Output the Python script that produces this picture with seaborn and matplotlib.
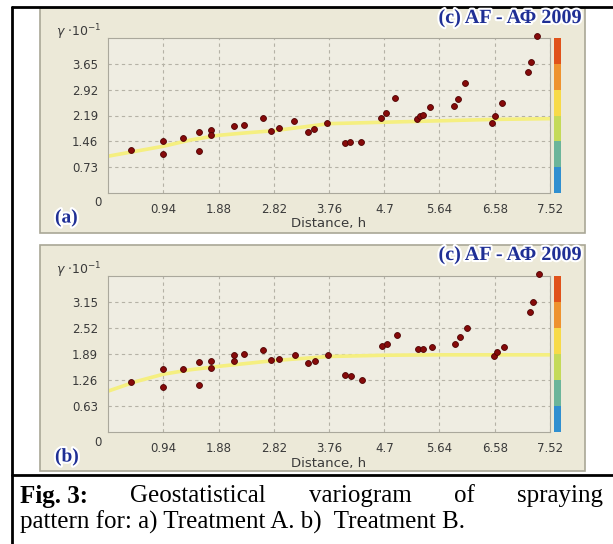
import matplotlib
matplotlib.use("Agg")
import matplotlib.pyplot as plt
import matplotlib.patheffects as pe
from matplotlib.colors import ListedColormap, BoundaryNorm
from matplotlib.patches import Rectangle
from matplotlib.lines import Line2D
import matplotlib.colorbar as mcolorbar
import seaborn as sns

# --- data ---
dist_a = [0.39, 0.93, 0.93, 1.27, 1.55, 1.55, 1.76, 1.76, 2.15, 2.32, 2.64, 2.77,
          2.91, 3.17, 3.40, 3.51, 3.73, 4.03, 4.12, 4.30, 4.64, 4.73, 4.88, 5.25,
          5.31, 5.36, 5.48, 5.89, 5.96, 6.07, 6.53, 6.58, 6.70, 7.15, 7.19, 7.30]
gamma_a = [1.22, 1.48, 1.10, 1.55, 1.72, 1.19, 1.79, 1.63, 1.88, 1.92, 2.11, 1.76,
           1.84, 2.04, 1.73, 1.81, 1.97, 1.40, 1.43, 1.45, 2.11, 2.25, 2.69, 2.10,
           2.17, 2.20, 2.42, 2.45, 2.66, 3.11, 1.98, 2.17, 2.55, 3.43, 3.71, 4.44]
model_x_a = [0, 0.47, 0.94, 1.41, 1.88, 2.35, 2.82, 3.29, 3.76, 4.7, 5.64, 6.58, 7.52]
model_y_a = [1.04, 1.18, 1.32, 1.50, 1.63, 1.70, 1.76, 1.86, 1.96, 2.00, 2.04, 2.08, 2.10]

dist_b = [0.39, 0.93, 0.93, 1.27, 1.55, 1.55, 1.76, 1.76, 2.15, 2.15, 2.32, 2.64,
          2.77, 2.91, 3.18, 3.40, 3.52, 3.75, 4.04, 4.13, 4.32, 4.67, 4.75, 4.91,
          5.28, 5.36, 5.51, 5.91, 5.99, 6.11, 6.57, 6.61, 6.74, 7.18, 7.23, 7.33]
gamma_b = [1.22, 1.52, 1.10, 1.53, 1.70, 1.14, 1.71, 1.56, 1.87, 1.71, 1.89, 1.99,
           1.75, 1.77, 1.86, 1.68, 1.73, 1.86, 1.37, 1.36, 1.26, 2.09, 2.14, 2.36,
           2.02, 2.02, 2.05, 2.14, 2.29, 2.51, 1.85, 1.94, 2.07, 2.91, 3.14, 3.82]
model_x_b = [0, 0.47, 0.94, 1.41, 1.88, 2.82, 3.76, 4.7, 5.64, 6.58, 7.52]
model_y_b = [0.99, 1.22, 1.40, 1.51, 1.59, 1.73, 1.83, 1.86, 1.87, 1.87, 1.87]

x_ticks = [0.94, 1.88, 2.82, 3.76, 4.7, 5.64, 6.58, 7.52]
x_labels = ["0.94", "1.88", "2.82", "3.76", "4.7", "5.64", "6.58", "7.52"]
y_ticks_a = [0.73, 1.46, 2.19, 2.92, 3.65]
y_ticks_b = [0.63, 1.26, 1.89, 2.52, 3.15]
bar_colors = ["#2f8fd0", "#6bb59a", "#c4da58", "#f7da48", "#ee922e", "#e0521a"]

W, H = 613, 544
sns.set_style("white")
fig = plt.figure(figsize=(W / 100, H / 100), dpi=100)

PANEL = "#ece9d8"
PLOTBG = "#efede2"
GRID = "#b5b2a6"
TXT = "#3a3a3a"
BLUE = "#1f2f95"
glow = [pe.withStroke(linewidth=3, foreground="white")]


def fx(px):
    return px / W


def fy(py):
    return 1 - py / H


def draw_panel(top, bottom, ax_top, ax_bot, x, y, mx, my, yticks, ymax, tag):
    fig.add_artist(Rectangle((fx(40), fy(bottom)), fx(545), (bottom - top) / H,
                             transform=fig.transFigure, facecolor=PANEL,
                             edgecolor="#a9a796", lw=1.2, zorder=-5))
    ax = fig.add_axes([fx(108), fy(ax_bot), fx(442), (ax_bot - ax_top) / H])
    ax.set_facecolor(PLOTBG)
    ax.set_xlim(0, 7.52)
    ax.set_ylim(0, ymax)

    sns.lineplot(x=mx, y=my, ax=ax, color="#f5ef80", lw=2.6, zorder=2)
    sns.scatterplot(x=x, y=y, ax=ax, color="#860a0a", edgecolor="#4d0303",
                    linewidth=0.6, s=18, zorder=3, clip_on=False)
    ax.set_xlabel("")
    ax.set_ylabel("")
    ax.set_xticks(x_ticks)
    ax.set_xticklabels(x_labels)
    ax.set_yticks(yticks)
    ax.set_yticklabels([f"{v:.2f}" for v in yticks])
    ax.tick_params(length=0, labelsize=8.5, labelcolor=TXT, pad=7)
    ax.grid(True, color=GRID, lw=0.8, ls=(0, (3, 3)))
    ax.set_axisbelow(True)
    for s in ax.spines.values():
        s.set_color("#aaa89c")
        s.set_linewidth(0.8)

    fig.text(fx(102), fy(ax_bot + 10), "0", ha="right", va="center",
             fontsize=8.5, color=TXT)
    fig.text(fx(56), fy(ax_top - 6), r"$\gamma$ $\cdot 10^{-1}$", ha="left",
             va="center", fontsize=9, color=TXT)
    fig.text(fx(329), fy(ax_bot + 31), "Distance, h", ha="center", va="center",
             fontsize=9.5, color=TXT)
    fig.text(fx(55), fy(ax_bot + 25), tag, ha="left", va="center",
             fontsize=14, fontweight="bold", family="Liberation Serif", color=BLUE,
             path_effects=glow)
    fig.text(fx(581), fy(top + 10), "(c) AF - ΑΦ 2009", ha="right", va="center",
             fontsize=14.5, fontweight="bold", family="Liberation Serif", color=BLUE,
             path_effects=glow)

    cax = fig.add_axes([fx(554), fy(ax_bot), fx(7), (ax_bot - ax_top) / H])
    cmap = ListedColormap(bar_colors)
    norm = BoundaryNorm(range(7), cmap.N)
    cb = mcolorbar.ColorbarBase(cax, cmap=cmap, norm=norm, orientation="vertical")
    cb.outline.set_visible(False)
    cb.set_ticks([])
    cax.minorticks_off()
    cax.tick_params(which="both", length=0, labelright=False)
    return ax


draw_panel(8, 233, 38, 193, dist_a, gamma_a, model_x_a, model_y_a,
           y_ticks_a, 4.38, "(a)")
draw_panel(245, 471, 276, 432, dist_b, gamma_b, model_x_b, model_y_b,
           y_ticks_b, 3.78, "(b)")

# frame lines
for xs, ys in [([12, 12], [7, 544]), ([12, 613], [7, 7]), ([12, 613], [475, 475])]:
    fig.add_artist(Line2D([fx(v) for v in xs], [fy(v) for v in ys],
                          transform=fig.transFigure, color="black", lw=2))

# caption, first line justified
words = [("Fig. 3:", "bold"), ("Geostatistical", "normal"), ("variogram", "normal"),
         ("of", "normal"), ("spraying", "normal")]
cap_kw = dict(fontsize=18, family="Liberation Serif", color="black", va="center")
renderer = fig.canvas.get_renderer()
texts = []
total = 0
for w, wt in words:
    t = fig.text(0, fy(496), w, fontweight=wt, **cap_kw)
    bb = t.get_window_extent(renderer=renderer)
    texts.append((t, bb.width))
    total += bb.width
gap = (603 - 20 - total) / (len(words) - 1)
xpos = 20
for t, wd in texts:
    t.set_x(fx(xpos))
    xpos += wd + gap
fig.text(fx(20), fy(522), "pattern for: a) Treatment A. b)  Treatment B.", **cap_kw)

fig.savefig("out.png", dpi=100, facecolor="white")
